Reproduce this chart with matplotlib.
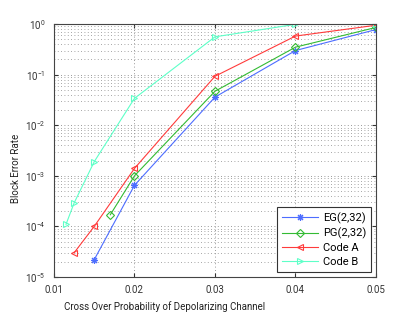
import numpy as np
import matplotlib
matplotlib.use("Agg")
import matplotlib.pyplot as plt
from matplotlib.ticker import LogLocator, NullFormatter

plt.rcParams['font.family'] = ['Roboto', 'DejaVu Sans']
plt.rcParams['mathtext.fontset'] = 'custom'
plt.rcParams['mathtext.rm'] = 'Roboto'

# data
x_eg = [0.015, 0.02, 0.03, 0.04, 0.05]
y_eg = [2.2e-5, 6.5e-4, 0.036, 0.30, 0.78]

x_pg = [0.017, 0.02, 0.03, 0.04, 0.05]
y_pg = [1.7e-4, 1.0e-3, 0.047, 0.35, 0.86]

x_a = [0.0125, 0.015, 0.02, 0.03, 0.04, 0.05]
y_a = [3.0e-5, 1.0e-4, 1.4e-3, 0.093, 0.58, 0.95]

x_b = [0.0115, 0.0125, 0.015, 0.02, 0.03, 0.04, 0.05]
y_b = [1.1e-4, 2.9e-4, 1.9e-3, 0.034, 0.56, 0.99, 1.0]

x_ticks = [0.01, 0.02, 0.03, 0.04, 0.05]
x_ticklabels = ['0.01', '0.02', '0.03', '0.04', '0.05']
y_ticks = [1e-5, 1e-4, 1e-3, 1e-2, 1e-1, 1e0]
y_ticklabels = ['$10^{-5}$', '$10^{-4}$', '$10^{-3}$', '$10^{-2}$', '$10^{-1}$', '$10^{0}$']
series_names = ['EG(2,32)', 'PG(2,32)', 'Code A', 'Code B']

fig = plt.figure(figsize=(4.15, 3.13), dpi=100)
ax = fig.add_axes([0.130, 0.115, 0.776, 0.808])

lw = 0.8
ax.semilogy(x_eg, y_eg, color='#4d6dff', marker=(8, 2, 0), ms=5, mew=0.8, lw=lw, label=series_names[0])
ax.semilogy(x_pg, y_pg, color='#33bb33', marker='D', ms=4, mfc='none', mew=0.8, lw=lw, label=series_names[1])
ax.semilogy(x_a, y_a, color='#ff3b3b', marker='<', ms=5, mfc='none', mew=0.8, lw=lw, label=series_names[2])
ax.semilogy(x_b, y_b, color='#5effc8', marker='>', ms=5, mfc='none', mew=0.8, lw=lw, label=series_names[3])

ax.set_xlim(0.01, 0.05)
ax.set_ylim(1e-5, 1)
ax.set_xticks(x_ticks)
ax.set_xticklabels(x_ticklabels)
ax.set_yticks(y_ticks)
ax.set_yticklabels(y_ticklabels)
ax.yaxis.set_minor_locator(LogLocator(base=10, subs=np.arange(2, 10)))
ax.yaxis.set_minor_formatter(NullFormatter())

dots = (0, (1, 3))
ax.grid(True, which='major', axis='both', linestyle=dots, color='#777777', lw=0.6)
ax.grid(True, which='minor', axis='y', linestyle=dots, color='#888888', lw=0.6)
ax.tick_params(which='both', direction='in', labelsize=7, labelcolor='#333333', color='#333333',
               top=True, right=True)
ax.tick_params(which='minor', length=0)
ax.tick_params(which='major', length=3, pad=6)
for s in ax.spines.values():
    s.set_color('#444444')
    s.set_linewidth(0.8)

ax.set_xlabel('Cross Over Probability of Depolarizing Channel', fontsize=7, color='#222222')
ax.set_ylabel('Block Error Rate', fontsize=7, color='#222222')
ax.xaxis.set_label_coords(0.345, -0.095)
ax.yaxis.set_label_coords(-0.102, 0.43)

leg = ax.legend(loc='lower right', fontsize=8, fancybox=False, framealpha=1,
                edgecolor='#333333', borderpad=0.45, labelspacing=0.35, handlelength=3.25,
                handletextpad=0.45, borderaxespad=0, bbox_to_anchor=(0.985, 0.02))
leg.get_frame().set_linewidth(0.8)

fig.savefig('out.png', dpi=100)
